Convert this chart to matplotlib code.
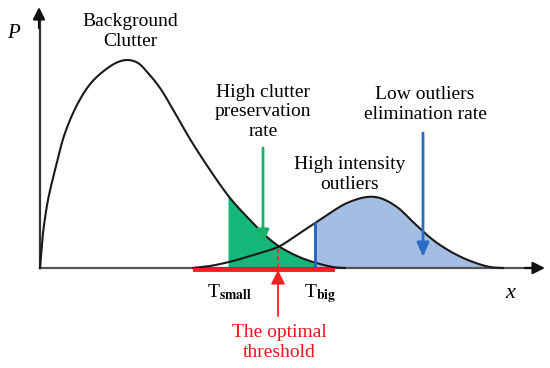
import numpy as np
import matplotlib
matplotlib.use("Agg")
import matplotlib.pyplot as plt

plt.rcParams['font.family'] = ['Liberation Serif', 'DejaVu Serif']
plt.rcParams['mathtext.fontset'] = 'stix'

# ---- data (x: intensity, P: probability, schematic units) ----
clutter_x = [0, 1, 3, 8, 15, 25, 38, 51, 65, 78, 88, 98, 108, 120, 135, 150,
             170, 190, 210, 227, 240, 257, 273, 293, 305]
clutter_p = [0, 12, 35, 68, 98, 135, 165, 185, 198, 206, 208, 205, 195, 180,
             155, 129, 98, 70, 48, 31, 21, 12, 6, 1, 0]

outlier_x = [153, 170, 193, 210, 227, 240, 257, 275, 290, 307, 327, 340, 357,
             373, 387, 400, 417, 433, 450, 463]
outlier_p = [0, 2, 7, 12, 17, 22, 33, 45, 55, 65, 71, 70, 61, 46, 33, 23, 13,
             6, 1, 0]

T_small = 188
T_big = 275
T_opt = 238
red_range = [153, 295]


def smooth_path(xs, ys, n=12):
    """Centripetal Catmull-Rom rendering of the read points (drawing only)."""
    P = np.column_stack([xs, ys]).astype(float)
    P = np.vstack([2 * P[0] - P[1], P, 2 * P[-1] - P[-2]])
    out = []
    for i in range(1, len(P) - 2):
        p0, p1, p2, p3 = P[i - 1], P[i], P[i + 1], P[i + 2]
        t0 = 0.0
        t1 = t0 + np.linalg.norm(p1 - p0) ** 0.5
        t2 = t1 + np.linalg.norm(p2 - p1) ** 0.5
        t3 = t2 + np.linalg.norm(p3 - p2) ** 0.5
        for t in np.linspace(t1, t2, n, endpoint=False):
            a1 = (t1 - t) / (t1 - t0) * p0 + (t - t0) / (t1 - t0) * p1
            a2 = (t2 - t) / (t2 - t1) * p1 + (t - t1) / (t2 - t1) * p2
            a3 = (t3 - t) / (t3 - t2) * p2 + (t - t2) / (t3 - t2) * p3
            b1 = (t2 - t) / (t2 - t0) * a1 + (t - t0) / (t2 - t0) * a2
            b2 = (t3 - t) / (t3 - t1) * a2 + (t - t1) / (t3 - t1) * a3
            out.append((t2 - t) / (t2 - t1) * b1 + (t - t1) / (t2 - t1) * b2)
    out.append(P[-2])
    out = np.array(out)
    return out[:, 0], out[:, 1]


# ---- figure ----
fig = plt.figure(figsize=(5.5, 3.68), dpi=100)
ax = fig.add_axes([0, 0, 1, 1])
ax.set_xlim(-40, 510)
ax.set_ylim(-100, 268)
ax.axis('off')

cx, cp = smooth_path(clutter_x, clutter_p)
ox, op = smooth_path(outlier_x, outlier_p)

# green fill: clutter between T_small and T_big
m = (cx > T_small) & (cx < T_big)
gx = np.concatenate([[T_small], cx[m], [T_big]])
gy = np.concatenate([[np.interp(T_small, cx, cp)], cp[m], [np.interp(T_big, cx, cp)]])
ax.fill_between(gx, 0, gy, color='#13b87a', lw=0, zorder=1)

# blue fill: outliers beyond T_big
m2 = ox > T_big
bx = np.concatenate([[T_big], ox[m2]])
by = np.concatenate([[np.interp(T_big, ox, op)], op[m2]])
ax.fill_between(bx, 0, by, color='#a3bde3', lw=0, zorder=1)

# curves
ax.plot(cx, cp, color='#1a1a1a', lw=1.5, solid_joinstyle='round', zorder=3)
ax.plot(ox, op, color='#1a1a1a', lw=1.5, solid_joinstyle='round', zorder=3)

# blue T_big line
ax.plot([T_big, T_big], [0, np.interp(T_big, ox, op)], color='#1f5fc4', lw=2.0, zorder=4)

# axes arrows
ax.plot([0, 0], [0, 252], color='#333333', lw=1.6, zorder=2)
ax.annotate('', xy=(-1, 261), xytext=(-1, 240),
            arrowprops=dict(arrowstyle='-|>,head_length=0.6,head_width=0.3',
                            mutation_scale=12, color='#111111', lw=1.6,
                            shrinkA=0, shrinkB=0))
ax.plot([0, 496], [0, 0], color='#555555', lw=1.6, zorder=2)
ax.annotate('', xy=(505, 0), xytext=(485, 0),
            arrowprops=dict(arrowstyle='-|>,head_length=0.6,head_width=0.3',
                            mutation_scale=12, color='#111111', lw=1.6,
                            shrinkA=0, shrinkB=0))

# red threshold range
ax.plot(red_range, [-1.5, -1.5], color='#ff1f1f', lw=2.8, solid_capstyle='butt', zorder=5)
ax.plot([T_opt, T_opt], [0, np.interp(T_opt, cx, cp)], color='#ff1f1f', lw=1.2,
        ls=(0, (2.5, 2)), zorder=5)
ax.annotate('', xy=(T_opt, -2), xytext=(T_opt, -48),
            arrowprops=dict(arrowstyle='-|>,head_length=0.7,head_width=0.35',
                            mutation_scale=12, color='#ff1f1f', lw=1.3,
                            shrinkA=0, shrinkB=0), zorder=6)

# green and blue arrows
ax.annotate('', xy=(223, 24), xytext=(223, 120),
            arrowprops=dict(arrowstyle='-|>,head_length=0.7,head_width=0.3',
                            mutation_scale=12, color='#19b06a', lw=2.0,
                            shrinkA=0, shrinkB=0), zorder=6)
ax.annotate('', xy=(383, 11), xytext=(383, 135),
            arrowprops=dict(arrowstyle='-|>,head_length=0.7,head_width=0.3',
                            mutation_scale=12, color='#2a6cc4', lw=2.0,
                            shrinkA=0, shrinkB=0), zorder=6)

# texts
fs = 14
ax.text(-27, 235, 'P', style='italic', fontsize=15, ha='center', va='center')
ax.text(470, -26, 'x', style='italic', fontsize=16, ha='center', va='center')
ax.text(90, 236.5, 'Background\nClutter', fontsize=fs, ha='center', va='center',
        multialignment='center')
ax.text(223, 156, 'High clutter\npreservation\nrate', fontsize=fs, ha='center',
        va='center', multialignment='center')
ax.text(385, 163.5, 'Low outliers\nelimination rate', fontsize=fs, ha='center',
        va='center', multialignment='center')
ax.text(310, 93.5, 'High intensity\noutliers', fontsize=fs, ha='center',
        va='center', multialignment='center')
ax.text(239, -74.5, 'The optimal\nthreshold', fontsize=fs, ha='center',
        va='center', multialignment='center', color='#f0141c')
ax.text(167, -29, r'T$_{\mathbf{small}}$', fontsize=fs, ha='left', va='baseline')
ax.text(264, -29, r'T$_{\mathbf{big}}$', fontsize=fs, ha='left', va='baseline')

fig.savefig('out.png', dpi=100)
